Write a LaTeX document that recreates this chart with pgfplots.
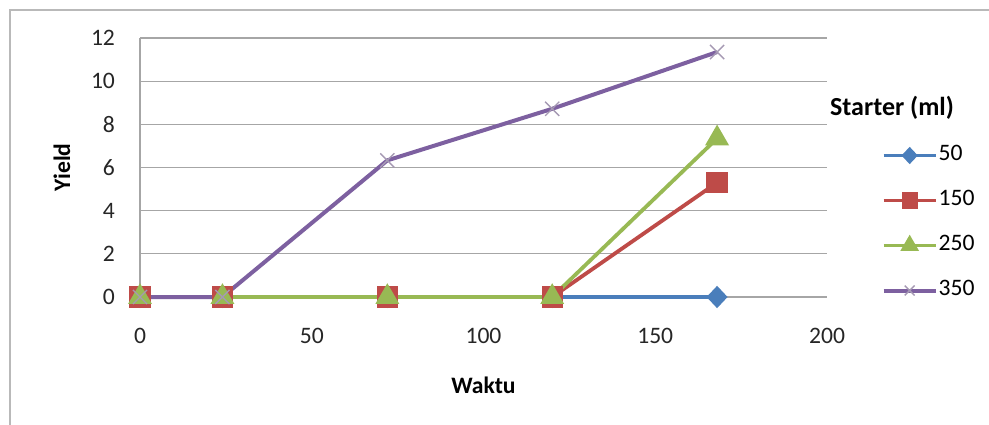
\documentclass[border=0pt]{standalone}
\usepackage{pgfplots}
\pgfplotsset{compat=1.18}
\usepackage{fontspec}
\setmainfont{Carlito}
\definecolor{cblue}{HTML}{4A7EBB}
\definecolor{cred}{HTML}{BE4B48}
\definecolor{cgreen}{HTML}{98B954}
\definecolor{cpurple}{HTML}{7D60A0}
\definecolor{gridgray}{HTML}{A6A6A6}
\begin{document}
\begin{tikzpicture}
\useasboundingbox (0,0) rectangle (494.5pt,212pt);
\draw[gray!55, line width=1pt] (5pt,-5pt) -- (5pt,207pt) -- (500pt,207pt);
\begin{axis}[
  at={(70pt,63.5pt)}, anchor=origin,
  scale only axis, width=343.5pt, height=129.5pt,
  xmin=0, xmax=200, ymin=0, ymax=12,
  xtick={0,50,...,200}, ytick={0,2,...,12},
  axis x line=bottom, axis y line=left,
  axis line style={gridgray, line width=0.6pt, -},
  ymajorgrids, grid style={gridgray, line width=0.6pt},
  major tick length=0pt,
  clip=false,
  /pgf/number format/assume math mode=true,
  tick label style={font=\fontsize{11.8}{13}\selectfont, text=black!85},
  xticklabel style={anchor=center, yshift=-19.5pt},
  yticklabel style={anchor=east, xshift=-9pt},
  xlabel={\textbf{Waktu}}, ylabel={\textbf{Yield}},
  label style={font=\fontsize{11.8}{13}\selectfont},
  xlabel style={at={(axis description cs:0.5,0)}, anchor=center, yshift=-44pt, xshift=0pt},
  ylabel style={at={(axis description cs:0,0.5)}, anchor=center, xshift=0pt, yshift=39pt},
  legend style={draw=none, fill=none, at={(axis description cs:1.079,0.5865)}, anchor=north west,
    font=\fontsize{11.8}{13}\selectfont, row sep=12.5pt, inner sep=0pt,
    nodes={inner sep=0.5pt, text height=7pt, text depth=2pt}},
  legend cell align=left,
  legend image code/.code={\draw[mark repeat=2, mark phase=2, /tikz/every mark/.append style={scale=0.7}] plot coordinates {(0pt,0pt) (13pt,0pt) (26pt,0pt)};},
]
\addplot[cblue, line width=1.9pt, mark=diamond*, mark size=4.2pt, mark options={xscale=1.25, solid}] coordinates {(0,0) (24,0) (72,0) (120,0) (168,0)};
\addlegendentry{50}
\addplot[cred, line width=1.9pt, mark=square*, mark size=4.4pt, mark options={solid}] coordinates {(0,0) (24,0) (72,0) (120,0) (168,5.3)};
\addlegendentry{150}
\addplot[cgreen, line width=1.9pt, mark=triangle*, mark size=5pt, mark options={solid}] coordinates {(0,0) (24,0) (72,0) (120,0) (168,7.35)};
\addlegendentry{250}
\addplot[cpurple, line width=2pt, mark=x, mark size=5pt, mark options={line width=0.7pt, draw=cpurple!60!gray!70}] coordinates {(0,0) (24,0) (72,6.33) (120,8.72) (168,11.35)};
\addlegendentry{350}
\end{axis}
\node[font=\bfseries\fontsize{13}{15}\selectfont, anchor=center] at (446pt,158pt) {Starter (ml)};
\end{tikzpicture}
\end{document}
